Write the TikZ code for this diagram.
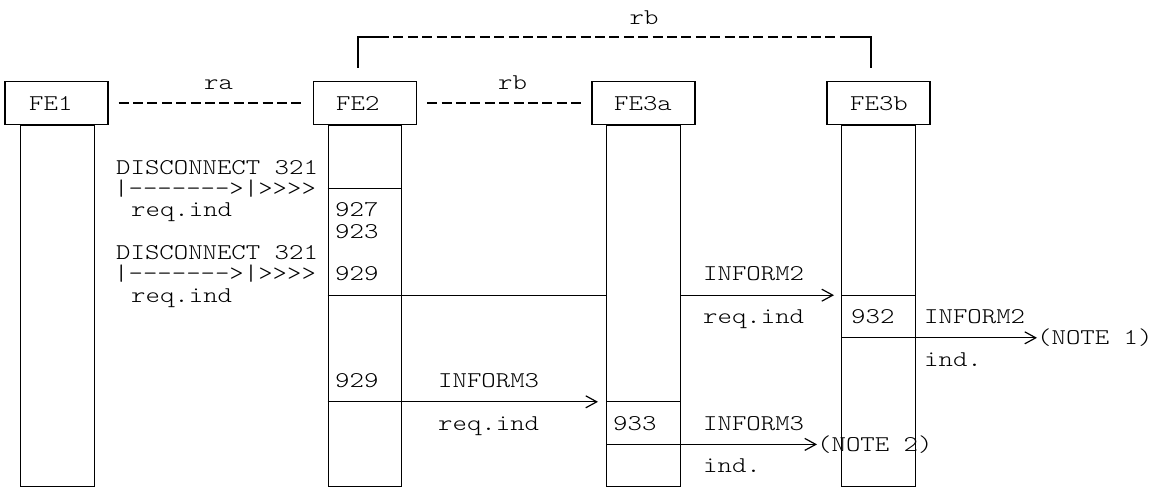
\documentclass[tikz,border=0pt]{standalone}
\usepackage{fontspec}
\newfontfamily\monofnt{Latin Modern Mono Light}[FakeStretch=1.22]
\usetikzlibrary{arrows.meta}
\begin{document}
\begin{tikzpicture}[x=1pt,y=-1pt,
  hdr/.style={draw, line width=1.2pt, minimum width=103pt, minimum height=43pt, inner sep=0pt},
  life/.style={draw, line width=1.2pt, minimum width=73.5pt, minimum height=361.5pt, inner sep=0pt, anchor=north},
  ln/.style={line width=1.2pt},
  dsh/.style={line width=1.2pt, dash pattern=on 10pt off 4.4pt},
  msg/.style={line width=1.2pt, -{Straight Barb[length=11pt,width=12pt,line width=1.2pt]}},
  lbl/.style={inner sep=0pt, anchor=base west, font=\monofnt\fontsize{22.5}{22.5}\selectfont},
  clbl/.style={lbl, anchor=base}]
\useasboundingbox (0,0) rectangle (1154,488);

% header boxes
\node[hdr] (fe1) at (56.5,103) {};
\node[hdr] (fe2) at (365,103) {};
\node[hdr] (fe3a) at (643.5,103) {};
\node[hdr] (fe3b) at (878.5,103) {};
\node[lbl] (fe1t) at (29,110) {FE1};
\node[lbl] (fe2t) at (336,110) {FE2};
\node[lbl] (fe3at) at (614,110) {FE3a};
\node[lbl] (fe3bt) at (850,110) {FE3b};

% lifelines
\node[life] (l1) at (57.5,124.5) {};
\node[life] (l2) at (365,124.5) {};
\node[life] (l3) at (643.5,124.5) {};
\node[life] (l4) at (878.5,124.5) {};

% relationships
\node[clbl] (ra) at (218.5,89) {ra};
\node[clbl] (rb1) at (512.5,89) {rb};
\node[clbl] (rb2) at (644,24) {rb};
\draw[dsh] ([xshift=10pt]fe1.east) -- ([xshift=-8pt]fe2.west);
\draw[dsh] ([xshift=10pt]fe2.east) -- ([xshift=-10pt]fe3a.west);
\coordinate (bl) at ([xshift=-7pt,yshift=13pt]fe2.north);
\coordinate (br) at ([xshift=-7.5pt,yshift=13pt]fe3b.north);
\coordinate (blt) at ([yshift=31pt]bl);
\coordinate (brt) at ([yshift=31pt]br);
\draw[ln] (bl) -- (blt) -- ([xshift=21pt]blt);
\draw[dsh] ([xshift=21pt]blt) -- ([xshift=-22pt]brt);
\draw[ln] ([xshift=-22pt]brt) -- (brt) -- (br);

% rows
\coordinate (r8) at (0,188.6);
\coordinate (r13) at (0,295.2);
\coordinate (r15) at (0,337.8);
\coordinate (r18) at (0,401.8);
\coordinate (r20) at (0,444.4);

% texts
\node[lbl] (d1) at (116,174.2) {DISCONNECT 321};
\node[lbl] (p1) at (114,195.6) {|------->|>>>>};
\node[lbl] (q1) at (131,216.9) {req.ind};
\node[lbl] (n927) at (335,216.9) {927};
\node[lbl] (n923) at (335,238.2) {923};
\node[lbl] (d2) at (116,259.5) {DISCONNECT 321};
\node[lbl] (p2) at (114,280.8) {|------->|>>>>};
\node[lbl] (n929a) at (335,280.8) {929};
\node[lbl] (i2a) at (703,280.8) {INFORM2};
\node[lbl] (q2) at (131,302.2) {req.ind};
\node[lbl] (q3) at (703,323.5) {req.ind};
\node[lbl] (n932) at (851,323.5) {932};
\node[lbl] (i2b) at (924,323.5) {INFORM2};
\node[lbl] (note1) at (1037,344.8) {(NOTE 1)};
\node[lbl] (ind1) at (924,366.1) {ind.};
\node[lbl] (n929b) at (335,387.4) {929};
\node[lbl] (i3a) at (438,387.4) {INFORM3};
\node[lbl] (q4) at (438,430.1) {req.ind};
\node[lbl] (n933) at (613,430.1) {933};
\node[lbl] (i3b) at (703,430.1) {INFORM3};
\node[lbl] (note2) at (817,451.4) {(NOTE 2)};
\node[lbl] (ind2) at (703,472.7) {ind.};

% lines and messages
\draw[ln] (l2.west |- r8) -- (l2.east |- r8);
\draw[ln] (l2.west |- r13) -- (l3.west |- r13);
\coordinate (a1) at (834,295.2);
\draw[msg] (l3.east |- r13) -- (a1);
\draw[ln] (l4.west |- r13) -- (l4.east |- r13);
\draw[msg] (l4.west |- r15) -- (note1.west |- r15);
\coordinate (a3) at (598,401.8);
\draw[msg] (l2.west |- r18) -- (a3);
\draw[ln] (l3.west |- r18) -- (l3.east |- r18);
\draw[msg] (l3.west |- r20) -- (note2.west |- r20);
\end{tikzpicture}
\end{document}
